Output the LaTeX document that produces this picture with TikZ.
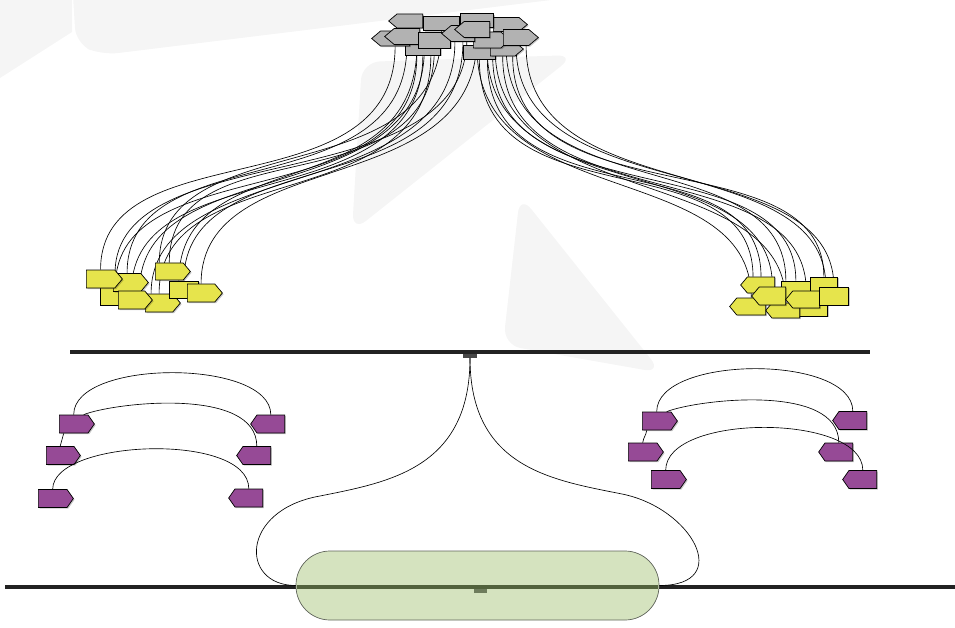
\documentclass[tikz,border=0pt]{standalone}
\usetikzlibrary{shapes.symbols,shadows}
\pgfdeclarelayer{back}
\pgfdeclarelayer{wires}
\pgfsetlayers{back,wires,main}

\definecolor{tagGray}{RGB}{178,178,178}
\definecolor{tagYellow}{RGB}{230,228,76}
\definecolor{tagPurple}{RGB}{150,74,150}
\definecolor{pillGreen}{RGB}{213,227,191}
\definecolor{pillEdge}{RGB}{95,100,90}
\definecolor{railInk}{RGB}{34,34,34}
\definecolor{railOlive}{RGB}{82,98,60}
\definecolor{tapInk}{RGB}{70,70,70}
\definecolor{dotOlive}{RGB}{110,124,92}
\definecolor{haze}{RGB}{245,245,245}

\tikzset{
  tag/.style={draw=black, line width=0.7pt, inner sep=0pt, minimum width=34pt,
    drop shadow={shadow xshift=1.2pt, shadow yshift=-1.2pt, fill=black, opacity=0.22}},
  toE/.style={shape=signal, signal to=east, signal pointer angle=#1},
  toE/.default=100,
  toW/.style={shape=signal, signal to=west, signal pointer angle=#1},
  toW/.default=100,
  flat/.style={shape=rectangle},
  grayTag/.style={tag, fill=tagGray, minimum height=14pt},
  yelTag/.style={tag, fill=tagYellow, minimum height=17pt},
  purTag/.style={tag, fill=tagPurple, minimum height=18pt},
  wire/.style={draw=black, line width=0.65pt},
  rail/.style={draw=railInk, line width=3.5pt},
}

% S-shaped link: shift1, node1, shift2, node2
\newcommand\lnk[4]{\draw[wire] ([#1]#2) .. controls ([#1,yshift=-165pt]#2) and ([#3,yshift=140pt]#4) .. ([#3]#4);}

\begin{document}
\begin{tikzpicture}[x=1pt,y=-1pt]
\useasboundingbox (0,0) rectangle (955,628);

% faint backdrop marks
\begin{pgfonlayer}{back}
  \fill[haze] (0,0) -- (72,0) -- (72,32) -- (0,78) -- cycle;
  \fill[haze, rounded corners=16pt] (72,-20) -- (76,44) -- (102,55) -- (600,-6) -- (600,-20) -- cycle;
  \fill[haze, rounded corners=18pt] (352,232) -- (362,62) -- (575,55) -- cycle;
  \fill[haze, rounded corners=18pt] (520,195) -- (503,345) -- (662,373) -- cycle;
\end{pgfonlayer}

% rails
\draw[rail] (70,352) -- (870,352);
\draw[rail] (5,587) -- (955,587);
\node[fill=tapInk, inner sep=0pt, minimum width=14pt, minimum height=3.5pt] (tap) at (470,356) {};

% grey cluster
\node[grayTag, flat, anchor=west, minimum width=35pt] (g1) at (405,48) {};
\node[grayTag, flat, anchor=west, minimum width=32pt] (g2) at (463,52) {};
\node[grayTag, toE=80, anchor=west, minimum width=33pt] (g3) at (490,49) {};
\node[grayTag, flat, anchor=west, minimum width=36pt] (g4) at (423,23.5) {};
\node[grayTag, toE=80, anchor=west, minimum width=34pt] (g5) at (493,24.5) {};
\node[grayTag, flat, anchor=west, minimum width=33pt] (g6) at (460,20.5) {};
\node[grayTag, toW=80, anchor=east, minimum width=34pt] (g7) at (423,21) {};
\node[grayTag, toE=80, anchor=west, minimum width=37pt, minimum height=16pt] (g8) at (473,40) {};
\node[grayTag, toE=80, anchor=west, minimum width=35pt, minimum height=16pt] (g9) at (503,37.5) {};
\node[grayTag, toW=80, anchor=east, minimum width=38pt, minimum height=15pt] (g10) at (410,38.5) {};
\node[grayTag, toW=80, anchor=east, minimum width=35pt, minimum height=16pt] (g11) at (420,36.5) {};
\node[grayTag, flat, anchor=west, minimum width=32pt, minimum height=16pt] (g12) at (418,40) {};
\node[grayTag, toW=80, anchor=east, minimum width=33pt, minimum height=16pt] (g13) at (475,33.5) {};
\node[grayTag, toW=80, anchor=east, minimum width=35pt, minimum height=16pt] (g14) at (490,29.5) {};

% yellow cluster, left
\node[yelTag, flat, anchor=west, minimum width=30pt, minimum height=18pt] (y3) at (100,296) {};
\node[yelTag, toE, anchor=west, minimum width=35pt, minimum height=18pt] (y2) at (113,282.5) {};
\node[yelTag, toE, anchor=west, minimum width=36pt, minimum height=18pt] (y1) at (86,279) {};
\node[yelTag, toE, anchor=west, minimum width=35pt, minimum height=18pt] (y5) at (145,303) {};
\node[yelTag, toE, anchor=west, minimum width=34pt, minimum height=18pt] (y4) at (118,300) {};
\node[yelTag, flat, anchor=west, minimum width=29pt, minimum height=17pt] (y7) at (169,289.5) {};
\node[yelTag, toE, anchor=west, minimum width=35pt, minimum height=18pt] (y8) at (187,293) {};
\node[yelTag, toE, anchor=west, minimum width=35pt, minimum height=17pt] (y6) at (155,271.5) {};

% yellow cluster, right
\node[yelTag, flat, anchor=west, minimum width=37pt, minimum height=16pt] (r7) at (790,308) {};
\node[yelTag, toW, anchor=east, minimum width=34pt, minimum height=15pt] (r5) at (800,310.5) {};
\node[yelTag, toW, anchor=east, minimum width=36pt, minimum height=17pt] (r2) at (766,306.5) {};
\node[yelTag, toW, anchor=east, minimum width=34pt, minimum height=16pt] (r1) at (775,285) {};
\node[yelTag, flat, anchor=west, minimum width=29pt, minimum height=18pt] (r4) at (781,290) {};
\node[yelTag, flat, anchor=west, minimum width=27pt, minimum height=16pt] (r8) at (810,285) {};
\node[yelTag, toW, anchor=east, minimum width=34pt, minimum height=18pt] (r3) at (786,296) {};
\node[yelTag, toW, anchor=east, minimum width=34pt, minimum height=17pt] (r6) at (820,299.5) {};
\node[yelTag, flat, anchor=west, minimum width=29pt, minimum height=18pt] (r9) at (819,296) {};

% links from the grey cluster
\begin{pgfonlayer}{wires}
  \lnk{xshift=0pt}{g10.south}{xshift=0pt}{y1.north}
  \lnk{xshift=0pt}{g11.south}{xshift=0pt}{y2.north}
  \lnk{xshift=-6pt}{g1.south}{xshift=0pt}{y3.north}
  \lnk{xshift=0pt}{g1.south}{xshift=0pt}{y4.north}
  \lnk{xshift=8pt}{g1.south}{xshift=0pt}{y5.north}
  \lnk{xshift=0pt}{g12.south}{xshift=0pt}{y6.north}
  \lnk{xshift=0pt}{g4.south}{xshift=-10pt}{y6.north}
  \lnk{xshift=0pt}{g13.south}{xshift=0pt}{y7.north}
  \lnk{xshift=-8pt}{g13.south}{xshift=-8pt}{y5.north}
  \lnk{xshift=0pt}{g14.south}{xshift=0pt}{y8.north}
  \lnk{xshift=-10pt}{g14.south}{xshift=-12pt}{y2.north}
  \lnk{xshift=-10pt}{g12.south}{xshift=8pt}{y4.north}
  \lnk{xshift=10pt}{g11.south}{xshift=-5pt}{y7.north}
  \lnk{xshift=0pt}{g2.south}{xshift=-8pt}{r1.north}
  \lnk{xshift=8pt}{g2.south}{xshift=0pt}{r1.north}
  \lnk{xshift=0pt}{g8.south}{xshift=0pt}{r3.north}
  \lnk{xshift=-10pt}{g3.south}{xshift=0pt}{r4.north}
  \lnk{xshift=0pt}{g3.south}{xshift=0pt}{r6.north}
  \lnk{xshift=10pt}{g3.south}{xshift=0pt}{r8.north}
  \lnk{xshift=0pt}{g9.south}{xshift=0pt}{r9.north}
  \lnk{xshift=-10pt}{g9.south}{xshift=-10pt}{r4.north}
  \lnk{xshift=-10pt}{g8.south}{xshift=0pt}{r2.north}
  \lnk{xshift=10pt}{g9.south}{xshift=-8pt}{r9.north}
  \lnk{xshift=8pt}{g8.south}{xshift=0pt}{r5.north}
\end{pgfonlayer}

% purple pairs
\node[purTag, toE=110, anchor=west, minimum width=35pt] (p1) at (59,424) {};
\node[purTag, toE=110, anchor=west, minimum width=34pt] (p2) at (46,455.5) {};
\node[purTag, toE=110, anchor=west, minimum width=35pt] (p3) at (38,498.5) {};
\node[purTag, toW=110, anchor=east, minimum width=34pt] (p4) at (285,424) {};
\node[purTag, toW=110, anchor=east, minimum width=34pt] (p5) at (271,455.5) {};
\node[purTag, toW=110, anchor=east, minimum width=34pt] (p6) at (263,498) {};
\node[purTag, toE=110, anchor=west, minimum width=35pt] (q1) at (642,421) {};
\node[purTag, toE=110, anchor=west, minimum width=35pt] (q2) at (628,452) {};
\node[purTag, toE=110, anchor=west, minimum width=35pt] (q3) at (651,479.5) {};
\node[purTag, toW=110, anchor=east, minimum width=34pt] (q4) at (867,420.5) {};
\node[purTag, toW=110, anchor=east, minimum width=34pt] (q5) at (853,452) {};
\node[purTag, toW=110, anchor=east, minimum width=34pt] (q6) at (877,479.5) {};

\draw[wire] (p1.north) .. controls ([yshift=56pt]p1.north) and ([yshift=56pt]p4.north) .. (p4.north);
\draw[wire] ([xshift=10pt]p1.north) .. controls ([xshift=40pt,yshift=12pt]p1.north) and ([yshift=60pt]p5.north) .. (p5.north);
\draw[wire] ([xshift=-10pt]p1.south) .. controls ([xshift=-11pt,yshift=-6pt]p1.south) and ([xshift=1pt,yshift=6pt]p2.north) .. (p2.north);
\draw[wire] (p3.north) .. controls ([yshift=50pt]p3.north) and ([yshift=57pt]p6.north) .. (p6.north);
\draw[wire] (q1.north) .. controls ([yshift=57pt]q1.north) and ([yshift=57pt]q4.north) .. (q4.north);
\draw[wire] ([xshift=10pt]q1.north) .. controls ([xshift=40pt,yshift=12pt]q1.north) and ([yshift=60pt]q5.north) .. (q5.north);
\draw[wire] ([xshift=-10pt]q1.south) .. controls ([xshift=-11pt,yshift=-6pt]q1.south) and ([xshift=1pt,yshift=6pt]q2.north) .. (q2.north);
\draw[wire] (q3.north) .. controls ([yshift=57pt]q3.north) and ([yshift=57pt]q6.north) .. (q6.north);

% green capsule on the lower rail
\node[draw=pillEdge, line width=0.7pt, fill=pillGreen, rounded corners=34pt, inner sep=0pt,
      minimum width=363pt, minimum height=69pt] (pill) at (477.5,585.5) {};
\draw[draw=railOlive, line width=3.5pt] (297,587) -- (658,587);
\node[fill=dotOlive, inner sep=0pt, minimum width=13pt, minimum height=4pt] (pdot) at (480.5,591) {};

% split from the upper rail down to the capsule
\coordinate (lv) at (320,496);
\coordinate (rv) at (622,494);
\draw[wire] (tap.south) .. controls ([yshift=-110pt]tap.south) and ([xshift=70pt,yshift=14pt]lv) .. (lv)
  .. controls ([xshift=-80pt,yshift=-14pt]lv) and ([xshift=-56pt]pill.west) .. (pill.west);
\draw[wire] (tap.south) .. controls ([yshift=-110pt]tap.south) and ([xshift=-70pt,yshift=14pt]rv) .. (rv)
  .. controls ([xshift=70pt,yshift=-14pt]rv) and ([xshift=75pt]pill.east) .. (pill.east);
\end{tikzpicture}
\end{document}
